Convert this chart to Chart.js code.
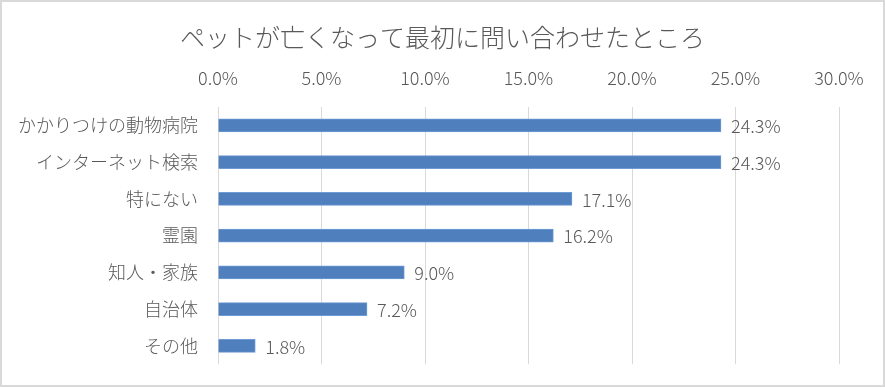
<!DOCTYPE html>
<html lang="ja">
  <head>
    <meta charset="UTF-8" />
    <title>ペットが亡くなって最初に問い合わせたところ</title>
    <script src="https://cdn.jsdelivr.net/npm/chart.js"></script>
    <style>
      body { margin: 0; background: #fff; }
      #box { width: 885px; height: 387px; }
    </style>
  </head>
  <body>
    <div id="box"><canvas id="petChart" width="885" height="387"></canvas></div>

    <script>
      // 데이터
      const categories = ['かかりつけの動物病院', 'インターネット検索', '特にない', '霊園', '知人・家族', '自治体', 'その他'];
      const values = [24.3, 24.3, 17.1, 16.2, 9.0, 7.2, 1.8];
      const xTicks = [0, 5, 10, 15, 20, 25, 30];

      const font = '"Noto Sans CJK JP", "Noto Sans", sans-serif';
      const textColor = '#595959';

      // 막대 끝 라벨
      const valueLabels = {
        id: 'valueLabels',
        afterDatasetsDraw(chart) {
          const ctx = chart.ctx;
          const meta = chart.getDatasetMeta(0);
          ctx.save();
          ctx.font = '300 18px ' + font;
          ctx.fillStyle = textColor;
          ctx.textAlign = 'left';
          ctx.textBaseline = 'middle';
          meta.data.forEach((bar, i) => {
            ctx.fillText(values[i].toFixed(1) + '%', bar.x + 10, bar.y + 1);
          });
          ctx.restore();
        }
      };

      // 제목을 캔버스 전체 폭 가운데로
      const centerTitle = {
        id: 'centerTitle',
        afterLayout(chart) {
          const t = chart.titleBlock;
          if (t) { t.left = 0; t.right = chart.width; t.width = chart.width; }
        }
      };

      // 바깥 테두리
      const frame = {
        id: 'frame',
        afterDraw(chart) {
          const ctx = chart.ctx;
          ctx.save();
          ctx.strokeStyle = '#d9d9d9';
          ctx.lineWidth = 2;
          ctx.strokeRect(1, 1, chart.width - 2, chart.height - 2);
          ctx.restore();
        }
      };

      new Chart(document.getElementById('petChart'), {
        type: 'bar',
        data: {
          labels: categories,
          datasets: [{
            data: values,
            backgroundColor: '#4f7fbd',
            borderColor: '#6e9bd3',
            borderWidth: 1,
            barThickness: 13
          }]
        },
        plugins: [valueLabels, centerTitle, frame],
        options: {
          indexAxis: 'y',
          responsive: false,
          animation: false,
          layout: { padding: { left: 0, right: 46, top: 0, bottom: 12 } },
          plugins: {
            legend: { display: false },
            tooltip: { enabled: false },
            title: {
              display: true,
              text: 'ペットが亡くなって最初に問い合わせたところ',
              color: textColor,
              font: { family: font, size: 25, weight: '300', lineHeight: 1.2 },
              padding: { top: 22, bottom: 15 }
            }
          },
          scales: {
            x: {
              position: 'top',
              min: 0,
              max: 30,
              afterBuildTicks(scale) { scale.ticks = xTicks.map(v => ({ value: v })); },
              afterFit(scale) { scale.height = 40; },
              grid: { color: '#d9d9d9', drawTicks: false },
              border: { display: false },
              ticks: {
                padding: 18,
                color: textColor,
                font: { family: font, size: 18, weight: '300' },
                callback: v => v.toFixed(1) + '%'
              }
            },
            y: {
              afterFit(scale) { scale.width = 218; },
              grid: { display: false },
              border: { display: false },
              ticks: {
                padding: 12,
                color: textColor,
                font: { family: font, size: 18, weight: '300' }
              }
            }
          }
        }
      });
    </script>
  </body>
</html>
